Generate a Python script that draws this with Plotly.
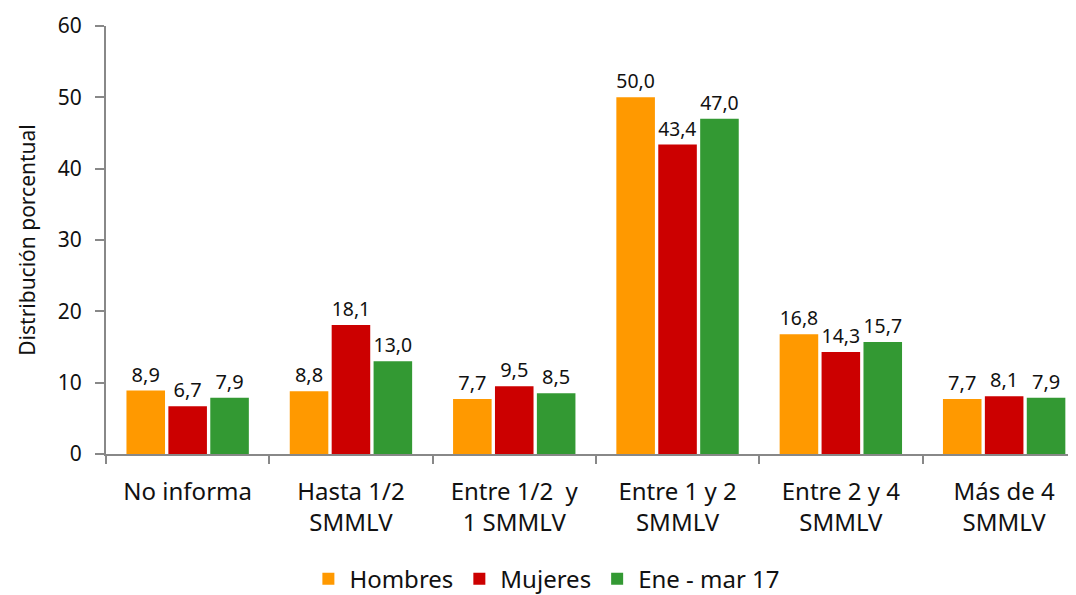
import plotly.graph_objects as go

categorias = [
    "No informa",
    "Hasta 1/2<br>SMMLV",
    "Entre 1/2  y<br>1 SMMLV",
    "Entre 1 y 2<br>SMMLV",
    "Entre 2 y 4<br>SMMLV",
    "Más de 4<br>SMMLV",
]
hombres = [8.9, 8.8, 7.7, 50.0, 16.8, 7.7]
mujeres = [6.7, 18.1, 9.5, 43.4, 14.3, 8.1]
ene_mar = [7.9, 13.0, 8.5, 47.0, 15.7, 7.9]

series = [
    ("Hombres", hombres, "#FF9900"),
    ("Mujeres", mujeres, "#CC0000"),
    ("Ene - mar 17", ene_mar, "#339933"),
]

fig = go.Figure()
for nombre, valores, color in series:
    fig.add_trace(
        go.Bar(
            name=nombre,
            x=categorias,
            y=valores,
            marker=dict(color=color, line=dict(width=0)),
            texttemplate="%{y:.1f}",
            textposition="outside",
            textfont=dict(size=20, color="#111"),
            cliponaxis=False,
        )
    )

# the page body adds 8px of margin, so margins are set 8px short
fig.update_layout(
    width=1076,
    height=595,
    barmode="group",
    bargap=0.23,
    bargroupgap=0.08,
    separators=",.",
    plot_bgcolor="white",
    paper_bgcolor="white",
    font=dict(family="Noto Sans", size=20, color="#111"),
    margin=dict(l=98, r=8, t=18, b=149),
    showlegend=True,
    legend=dict(
        orientation="h",
        x=0.454,
        xanchor="center",
        yref="container",
        y=0.04,
        yanchor="middle",
        font=dict(size=24),
        itemwidth=32,
        traceorder="normal",
    ),
)

fig.update_xaxes(
    range=[-0.5, 5.44],
    automargin=False,
    showline=True,
    linecolor="#888",
    linewidth=2,
    ticks="outside",
    tickson="boundaries",
    ticklen=8,
    tickcolor="#888",
    tickwidth=2,
    tickfont=dict(size=24),
    ticklabelstandoff=15,
    showgrid=False,
)

fig.update_yaxes(
    range=[0, 60],
    dtick=10,
    automargin=False,
    ticklabeloverflow="allow",
    showline=True,
    linecolor="#888",
    linewidth=2,
    ticks="outside",
    ticklen=9,
    tickcolor="#888",
    tickwidth=2,
    tickfont=dict(size=21),
    ticklabelstandoff=9,
    showgrid=False,
    zeroline=False,
    title=dict(text="Distribución porcentual", font=dict(size=21), standoff=16),
)

fig.write_html("out.html")
